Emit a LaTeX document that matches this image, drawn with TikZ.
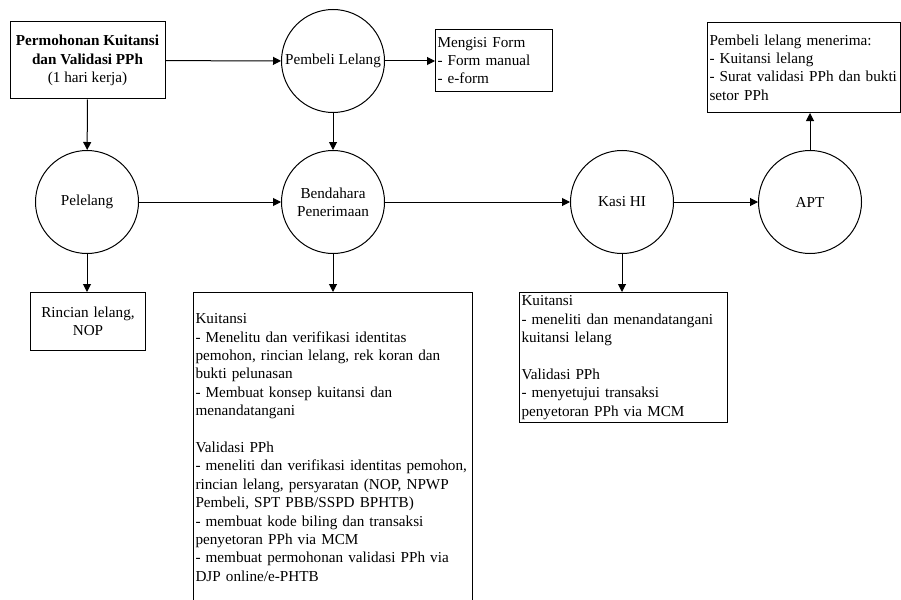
\documentclass[tikz,border=0pt]{standalone}
\usepackage{fontspec}
\setmainfont{Liberation Serif}
\usetikzlibrary{arrows.meta}

\tikzset{
  proses/.style={draw, circle, minimum size=103pt, inner sep=0pt, align=center},
  kotak/.style={draw, rectangle, inner sep=2pt, anchor=north west, align=left},
  panah/.style={-{Triangle[length=8pt,width=8pt]}},
}

\begin{document}
\begin{tikzpicture}[x=1pt,y=-1pt,line width=1pt,font=\fontsize{15.2}{18.4}\selectfont]
\useasboundingbox (0,0) rectangle (901,599);
% baris atas
\node[kotak, anchor=center, align=center, minimum width=155pt, minimum height=77pt] (mohon) at (87.5,60.5) {\textbf{Permohonan Kuitansi}\\\textbf{dan Validasi PPh}\\(1 hari kerja)};
\node[proses] (pembeli) at (333,61) {Pembeli Lelang};
\node[kotak, text width=113pt, minimum height=62pt] (form) at (435,29) {Mengisi Form\\- Form manual\\- e-form};
\node[kotak, text width=189pt, minimum height=90pt] (terima) at (707,22) {Pembeli lelang menerima:\\- Kuitansi lelang\\- Surat validasi PPh dan bukti\\setor PPh};
% baris tengah
\node[proses] (pelelang) at (87,202) {Pelelang};
\node[proses] (bendahara) at (333,202) {Bendahara\\Penerimaan};
\node[proses] (kasi) at (622,202) {Kasi HI};
\node[proses] (apt) at (810,202) {APT};
% baris bawah
\node[kotak, align=center, text width=111pt, minimum height=58pt] (rincian) at (30,292) {Rincian lelang,\\NOP};
\node[kotak, text width=275pt, minimum height=310pt] (tugasbend) at (193,292) {Kuitansi\\- Menelitu dan verifikasi identitas\\pemohon, rincian lelang, rek koran dan\\bukti pelunasan\\- Membuat konsep kuitansi dan\\menandatangani\\[18.4pt]Validasi PPh\\- meneliti dan verifikasi identitas pemohon,\\rincian lelang, persyaratan (NOP, NPWP\\Pembeli, SPT PBB/SSPD BPHTB)\\- membuat kode biling dan transaksi\\penyetoran PPh via MCM\\- membuat permohonan validasi PPh via\\DJP online/e-PHTB};
\node[kotak, text width=204pt, minimum height=130pt] (tugaskasi) at (519,292) {Kuitansi\\- meneliti dan menandatangani\\kuitansi lelang\\[18.4pt]Validasi PPh\\- menyetujui transaksi\\penyetoran PPh via MCM};
% panah
\draw[panah] (mohon) -- (pembeli);
\draw[panah] (pembeli.east) -- (pembeli.east -| form.west);
\draw[panah] (mohon) -- (pelelang);
\draw[panah] (pembeli) -- (bendahara);
\draw[panah] (pelelang) -- (bendahara);
\draw[panah] (bendahara) -- (kasi);
\draw[panah] (kasi) -- (apt);
\draw[panah] (apt.north) -- (apt.north |- terima.south);
\draw[panah] (pelelang) -- (pelelang |- rincian.north);
\draw[panah] (bendahara) -- (bendahara |- tugasbend.north);
\draw[panah] (kasi) -- (kasi |- tugaskasi.north);
\end{tikzpicture}
\end{document}
